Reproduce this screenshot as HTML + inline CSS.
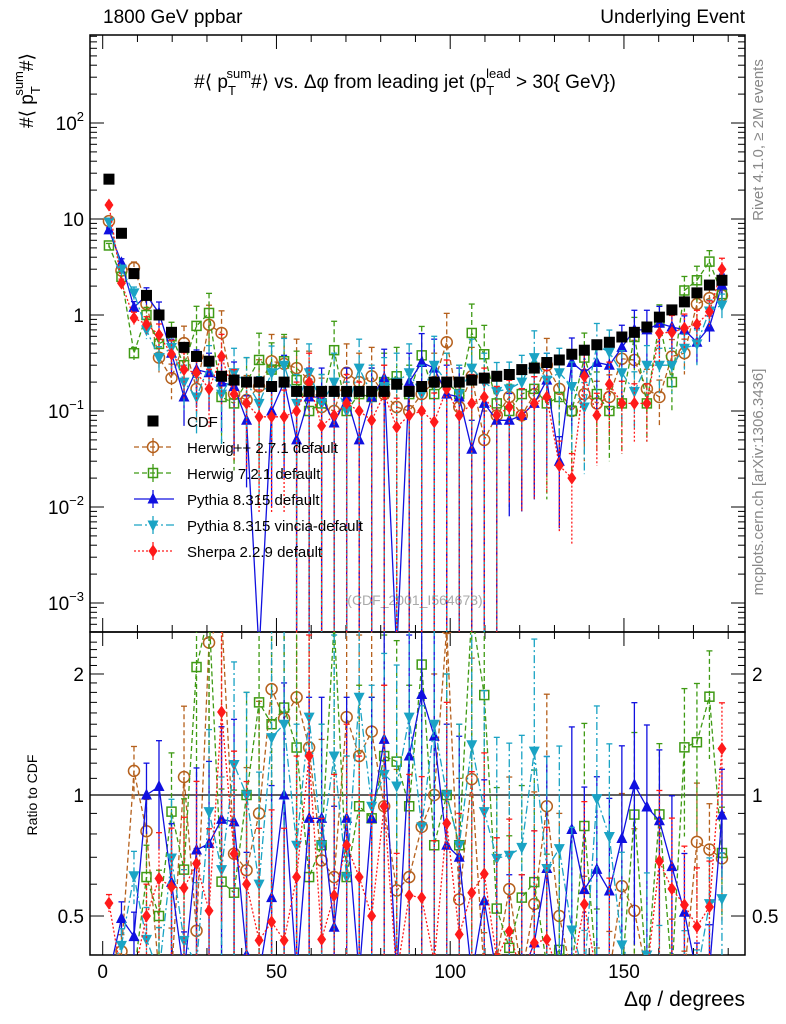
<!DOCTYPE html>
<html><head><meta charset="utf-8"><style>
body{margin:0;background:#fff;overflow:hidden}
svg{display:block;font-family:"Liberation Sans",sans-serif}
</style></head><body>
<svg id="c" width="786" height="1024" viewBox="0 0 786 1024"></svg>
<script>
const categories=[1.8,5.4,9,12.6,16.2,19.8,23.4,27,30.6,34.2,37.8,41.4,45,48.6,52.2,55.8,59.4,63,66.6,70.2,73.8,77.4,81,84.6,88.2,91.8,95.4,99,102.6,106.2,109.8,113.4,117,120.6,124.2,127.8,131.4,135,138.6,142.2,145.8,149.4,153,156.6,160.2,163.8,167.4,171,174.6,178.2];
const cdfVals=[26,7.1,2.7,1.6,1.0,0.66,0.46,0.37,0.33,0.23,0.21,0.20,0.20,0.18,0.20,0.16,0.16,0.16,0.16,0.16,0.16,0.16,0.16,0.19,0.16,0.18,0.20,0.20,0.20,0.21,0.22,0.23,0.24,0.27,0.28,0.32,0.34,0.39,0.43,0.49,0.52,0.59,0.66,0.75,0.95,1.13,1.37,1.7,2.05,2.3];
const herwigppVals=[9.5,2.9,3.1,1.3,0.36,0.22,0.51,0.17,0.79,0.65,0.15,0.13,0.18,0.33,0.31,0.28,0.21,0.11,0.10,0.25,0.20,0.23,0.15,0.11,0.10,0.15,0.20,0.52,0.11,0.23,0.05,0.09,0.14,0.09,0.15,0.30,0.17,0.10,0.15,0.12,0.14,0.35,0.34,0.17,0.14,0.37,0.40,1.3,1.5,1.6];
const herwig7Vals=[5.3,2.5,0.4,1.0,0.5,0.6,0.3,0.77,1.05,0.14,0.12,0.2,0.34,0.27,0.33,0.21,0.1,0.12,0.43,0.1,0.15,0.14,0.2,0.23,0.15,0.38,0.15,0.2,0.15,0.65,0.39,0.12,0.1,0.15,0.17,0.12,0.14,0.1,0.36,0.15,0.1,0.12,0.59,0.12,0.85,0.2,1.8,2.3,3.6,1.65];
const pythiaVals=[7.7,3.5,1.2,1.6,1.05,0.4,0.14,0.27,0.25,0.2,0.18,0.08,0.00001,0.1,0.2,0.05,0.14,0.14,0.075,0.14,0.05,0.14,0.22,0.00001,0.2,0.32,0.28,0.15,0.14,0.04,0.12,0.08,0.08,0.09,0.12,0.21,0.03,0.32,0.25,0.32,0.3,0.46,0.7,0.7,0.82,0.75,0.7,0.52,0.75,2.05];
const vinciaVals=[9.3,3.0,1.7,0.7,0.36,0.46,0.2,0.14,0.3,0.15,0.25,0.2,0.12,0.25,0.3,0.12,0.25,0.12,0.2,0.1,0.28,0.15,0.18,0.2,0.25,0.15,0.3,0.2,0.15,0.28,0.2,0.16,0.17,0.2,0.36,0.21,0.25,0.18,0.11,0.48,0.41,0.25,0.16,0.3,0.3,0.3,0.45,0.5,1.1,1.27];
const sherpaVals=[14,2.15,0.93,0.8,0.62,0.39,0.27,0.25,0.17,0.37,0.15,0.12,0.087,0.087,0.087,0.1,0.2,0.07,0.09,0.12,0.1,0.08,0.15,0.068,0.09,0.1,0.077,0.17,0.09,0.12,0.14,0.09,0.11,0.09,0.12,0.14,0.027,0.02,0.23,0.09,0.19,0.12,0.12,0.12,0.65,0.66,0.73,0.8,1.08,3.0];
const mcRelErr=[0.05,0.1,0.15,0.2,0.3,0.4,0.5,0.6,0.6,0.7,0.8,0.8,0.9,0.9,0.9,1,1,1,1,1,1,1,1,1,1,1,1,1,1,1,1,1,0.9,0.9,0.9,0.9,0.8,0.8,0.8,0.7,0.7,0.7,0.6,0.6,0.5,0.5,0.4,0.4,0.3,0.3];
const xTicks=[0,50,100,150];
const mainTicks=[[1e-3,"10","−3"],[1e-2,"10","−2"],[1e-1,"10","−1"],[1,"1",""],[10,"10",""],[100,"10","2"]];
const ratioTicks=[[0.5,"0.5"],[1,"1"],[2,"2"]];

const NS="http://www.w3.org/2000/svg";
const svg=document.getElementById('c');
const L=90,R=745,MT=35,MB=632,RB=955;
const X=d=>102.7+3.475*d;
const Ym=v=>315-96*Math.log10(v);
const Yr=r=>795-402*Math.log10(r);
function el(tag,attrs,parent){const e=document.createElementNS(NS,tag);for(const k in attrs)e.setAttribute(k,attrs[k]);(parent||svg).appendChild(e);return e;}
const defs=el('defs',{});
const cm=el('clipPath',{id:'cm'},defs);el('rect',{x:L,y:MT,width:R-L,height:MB-MT},cm);
const cr=el('clipPath',{id:'cr'},defs);el('rect',{x:L,y:MB,width:R-L,height:RB-MB},cr);

function txt(x,y,s,o){const t=el('text',Object.assign({x:x,y:y,'font-size':18,fill:'#000'},o||{}));t.textContent=s;return t;}
let t;
t=txt(103,23,"1800 GeV ppbar",{'font-size':19});


t=txt(745,23,"Underlying Event",{'font-size':19,'text-anchor':'end'});



const fm=el('rect',{x:L,y:MT,width:R-L,height:MB-MT,fill:'none',stroke:'#000','stroke-width':1.5});


const fr=el('rect',{x:L,y:MB,width:R-L,height:RB-MB,fill:'none',stroke:'#000','stroke-width':1.5});



const xt=el('g',{stroke:'#000','stroke-width':1});


for(let d=0;d<=180;d+=10){const maj=d%50===0,len=maj?14:7,x=X(d);
 el('line',{x1:x,x2:x,y1:RB,y2:RB-len},xt);el('line',{x1:x,x2:x,y1:MB,y2:MB-len},xt);
 el('line',{x1:x,x2:x,y1:MT,y2:MT+len},xt);el('line',{x1:x,x2:x,y1:MB,y2:MB+len},xt);}
xTicks.forEach(d=>{const tt=txt(X(d),978,String(d),{'font-size':19,'text-anchor':'middle'});
 
 });
t=txt(745,1006,"Δφ / degrees",{'font-size':21,'text-anchor':'end'});



const yt=el('g',{stroke:'#000','stroke-width':1});


for(let e=-4;e<=2;e++)for(let m=1;m<10;m++){const v=m*Math.pow(10,e),y=Ym(v);if(y<MT||y>MB)continue;const len=m===1?14:7;
 el('line',{x1:L,x2:L+len,y1:y,y2:y},yt);el('line',{x1:R,x2:R-len,y1:y,y2:y},yt);}
mainTicks.forEach(([v,b,ex])=>{const tt=el('text',{x:84,y:Ym(v)+7,'font-size':19,'text-anchor':'end'});
 
 
 const a=el('tspan',{},tt);a.textContent=b;
 if(ex){const s=el('tspan',{dy:-9,'font-size':13},tt);s.textContent=ex;}});
for(let r=0.4;r<=2.5;r+=0.1){const y=Yr(r);if(y<MB||y>RB)continue;const maj=[0.5,1,2].some(q=>Math.abs(q-r)<1e-6);const len=maj?14:7;
 el('line',{x1:L,x2:L+len,y1:y,y2:y},yt);el('line',{x1:R,x2:R-len,y1:y,y2:y},yt);}
ratioTicks.forEach(([r,s])=>{let tt=txt(84,Yr(r)+7,s,{'font-size':19,'text-anchor':'end'});
 
 
 tt=txt(752,Yr(r)+7,s,{'font-size':19});
 
 });
const one=el('line',{x1:L,x2:R,y1:Yr(1),y2:Yr(1),stroke:'#000','stroke-width':1.2});



const yl=el('text',{x:0,y:0,'font-size':19,transform:'translate(33,128) rotate(-90)'});


yl.innerHTML='#⟨ p<tspan dy="7" font-size="13">T</tspan><tspan dy="-17" dx="-8" font-size="13">sum</tspan><tspan dy="10">#⟩</tspan>';
t=txt(0,0,"Ratio to CDF",{'font-size':14,'text-anchor':'middle',transform:'translate(37,795) rotate(-90)'});


t=txt(0,0,"Rivet 4.1.0, ≥ 2M events",{'font-size':15,fill:'#888','text-anchor':'middle',transform:'translate(763,140) rotate(-90)'});


t=txt(0,0,"mcplots.cern.ch [arXiv:1306.3436]",{'font-size':15,fill:'#888','text-anchor':'middle',transform:'translate(763,482) rotate(-90)'});


const ttl=el('text',{x:405,y:88,'font-size':19,'text-anchor':'middle'});


ttl.innerHTML='#⟨ p<tspan dy="7" font-size="13">T</tspan><tspan dy="-17" dx="-8" font-size="13">sum</tspan><tspan dy="10">#⟩ vs. Δφ from leading jet  (p</tspan><tspan dy="7" font-size="13">T</tspan><tspan dy="-17" dx="-8" font-size="13">lead</tspan><tspan dy="10"> &gt; 30{ GeV})</tspan>';
t=txt(415,605,"(CDF_2001_I564673)",{'font-size':14,fill:'#aaa','text-anchor':'middle'});



function marker(g,type,x,y,c){const s=5.5;
 if(type==='sq')el('rect',{x:x-s,y:y-s,width:2*s,height:2*s,fill:c},g);
 else if(type==='osq')el('rect',{x:x-s+1,y:y-s+1,width:2*s-2,height:2*s-2,fill:'none',stroke:c,'stroke-width':1.5},g);
 else if(type==='oc')el('circle',{cx:x,cy:y,r:s,fill:'none',stroke:c,'stroke-width':1.5},g);
 else if(type==='tu')el('polygon',{points:`${x},${y-s-1} ${x-s},${y+s-1} ${x+s},${y+s-1}`,fill:c},g);
 else if(type==='td')el('polygon',{points:`${x},${y+s+1} ${x-s},${y-s+1} ${x+s},${y-s+1}`,fill:c},g);
 else if(type==='di')el('polygon',{points:`${x},${y-s-1} ${x+s-1},${y} ${x},${y+s+1} ${x-s+1},${y}`,fill:c},g);}

const series=[
 {name:'herwigpp',vals:herwigppVals,c:'#b5601c',dash:'5,3',m:'oc',label:'Herwig++ 2.7.1 default'},
 {name:'herwig7',vals:herwig7Vals,c:'#3f9a14',dash:'5,3',m:'osq',label:'Herwig 7.2.1 default'},
 {name:'pythia',vals:pythiaVals,c:'#1010e0',dash:'',m:'tu',label:'Pythia 8.315 default'},
 {name:'vincia',vals:vinciaVals,c:'#1aa3c4',dash:'8,3,2,3',m:'td',label:'Pythia 8.315 vincia-default'},
 {name:'sherpa',vals:sherpaVals,c:'#ff1a1a',dash:'2,2',m:'di',label:'Sherpa 2.2.9 default'}];

const gm=el('g',{'clip-path':'url(#cm)'});


const gr=el('g',{'clip-path':'url(#cr)'});



const clampY=(y,lo,hi)=>Math.max(lo-20,Math.min(hi+20,y));
series.forEach(s=>{
 [[gm,(v,i)=>v,Ym,MT,MB],[gr,(v,i)=>v/cdfVals[i],Yr,MB,RB]].forEach(([P,f,Y,lo,hi],pi)=>{
  const g=el('g',{},P);
  
  
  const pts=s.vals.map((v,i)=>[X(categories[i]),clampY(Y(f(v,i)),lo,hi)]);
  el('polyline',{points:pts.map(p=>p.join(',')).join(' '),fill:'none',stroke:s.c,'stroke-width':1.3,'stroke-dasharray':s.dash},g);
  s.vals.forEach((v,i)=>{const val=f(v,i),e=mcRelErr[i],x=X(categories[i]);
   const yh=clampY(Y(val*(1+e)),lo,hi),yl=e>=1?hi+5:clampY(Y(val*(1-e)),lo,hi);
   el('line',{x1:x,x2:x,y1:yh,y2:yl,stroke:s.c,'stroke-width':1.3,'stroke-dasharray':s.dash},g);
   el('line',{x1:x-3,x2:x+3,y1:yh,y2:yh,stroke:s.c,'stroke-width':1.3},g);
   marker(g,s.m,x,clampY(Y(val),lo,hi),s.c);});
 });});
const gc=el('g',{},gm);


cdfVals.forEach((v,i)=>marker(gc,'sq',X(categories[i]),Ym(v),'#000'));

const lg=el('g',{});


const ly=421;
const e0=el('g',{},lg);


marker(e0,'sq',153,ly,'#000');
el('text',{x:187,y:ly+6,'font-size':15},e0).textContent='CDF';
series.forEach((s,k)=>{const y=447+26*k;const g=el('g',{},lg);
 
 
 el('line',{x1:134,x2:174,y1:y,y2:y,stroke:s.c,'stroke-width':1.3,'stroke-dasharray':s.dash},g);
 el('line',{x1:153,x2:153,y1:y-9,y2:y+9,stroke:s.c,'stroke-width':1.3},g);
 marker(g,s.m,153,y,s.c);
 el('text',{x:187,y:y+6,'font-size':15},g).textContent=s.label;});
</script>
</body></html>
